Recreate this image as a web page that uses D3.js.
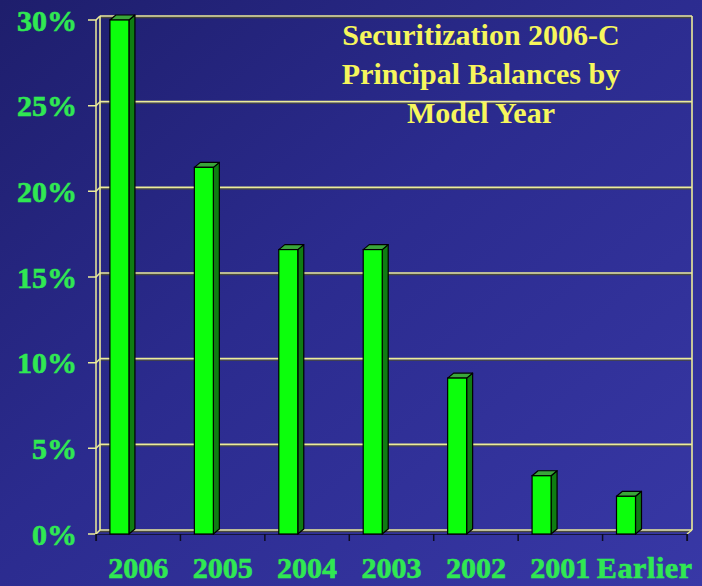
<!DOCTYPE html>
<html>
<head>
<meta charset="utf-8">
<script src="https://cdn.jsdelivr.net/npm/d3@7"></script>
<style>
  html, body { margin: 0; padding: 0; background: #2a2a8c; }
  svg { display: block; }
</style>
</head>
<body>
<svg id="chart" width="702" height="586"></svg>
<script>
const categories = ["2006", "2005", "2004", "2003", "2002", "2001", "Earlier"];
const values = [30.0, 21.4, 16.6, 16.6, 9.1, 3.4, 2.2];
const yTicks = [0, 5, 10, 15, 20, 25, 30];
const titleLines = ["Securitization 2006-C", "Principal Balances by", "Model Year"];

const svg = d3.select("#chart");
const W = 702, H = 586;

const defs = svg.append("defs");
const bg = defs.append("linearGradient").attr("id", "bg")
  .attr("x1", "0").attr("y1", "0").attr("x2", "1").attr("y2", "1");
bg.append("stop").attr("offset", "0%").attr("stop-color", "#1e1e6c");
bg.append("stop").attr("offset", "45%").attr("stop-color", "#2b2b8e");
bg.append("stop").attr("offset", "100%").attr("stop-color", "#3838a6");
svg.append("rect").attr("width", W).attr("height", H).attr("fill", "url(#bg)");

const x0 = 96, x1 = 687;
const x = d3.scaleBand().domain(categories).range([x0, x1]).padding(0);
const y = d3.scaleLinear().domain([0, 30]).range([534, 20]);
const DX = 4, DY = -4;
const BX = 6, BY = -5;

const gridColor = "#ecec98";
const shadowColor = "#4a4a3a";

const grid = svg.append("g");
yTicks.forEach(t => {
  const yy = y(t) + DY;
  grid.append("line").attr("x1", x0 + DX).attr("x2", x1 + DX)
    .attr("y1", yy + 1.6).attr("y2", yy + 1.6)
    .attr("stroke", shadowColor).attr("stroke-width", 1.2);
  grid.append("line").attr("x1", x0 + DX).attr("x2", x1 + DX + 1)
    .attr("y1", yy).attr("y2", yy)
    .attr("stroke", gridColor).attr("stroke-width", 1.6);
});
grid.append("line").attr("x1", x0 + DX).attr("x2", x0 + DX)
  .attr("y1", y(30) + DY).attr("y2", y(0) + DY)
  .attr("stroke", gridColor).attr("stroke-width", 1.6);
grid.append("line").attr("x1", x1 + DX + 1).attr("x2", x1 + DX + 1)
  .attr("y1", y(30) + DY).attr("y2", y(0) + DY)
  .attr("stroke", gridColor).attr("stroke-width", 1.6);
grid.append("line").attr("x1", x1 + DX + 1).attr("x2", x1)
  .attr("y1", y(0) + DY).attr("y2", y(0))
  .attr("stroke", gridColor).attr("stroke-width", 1.4);

const yAxis = svg.append("g");
yAxis.append("line").attr("x1", x0).attr("x2", x0)
  .attr("y1", y(30)).attr("y2", y(0))
  .attr("stroke", gridColor).attr("stroke-width", 1.5);
yTicks.forEach(t => {
  yAxis.append("polyline")
    .attr("points", `${x0 - 8},${y(t)} ${x0},${y(t)} ${x0 + DX},${y(t) + DY}`)
    .attr("fill", "none").attr("stroke", gridColor).attr("stroke-width", 1.5);
});

const xAxis = d3.axisBottom(x).tickSize(7).tickFormat("");
const gx = svg.append("g").attr("transform", `translate(0,${y(0)})`).call(xAxis);
gx.select(".domain").attr("stroke", "#15153a").attr("stroke-width", 1.2);
gx.selectAll(".tick").remove();
const tickPos = categories.map(c => x(c)).concat([x1]);
tickPos.forEach(p => {
  gx.append("line").attr("x1", p).attr("x2", p).attr("y1", 0).attr("y2", 7)
    .attr("stroke", "#0c0c20").attr("stroke-width", 1.5);
});

const bw = x.bandwidth();
const barW = bw * 0.225, barOff = bw * 0.165;
const bars = svg.append("g").selectAll("g").data(categories).join("g");
bars.each(function(c, i) {
  const g = d3.select(this);
  const bx = x(c) + barOff, top = y(values[i]), bot = y(0);
  g.append("polygon")
    .attr("points", `${bx + barW},${top} ${bx + barW + BX},${top + BY} ${bx + barW + BX},${bot + BY} ${bx + barW},${bot}`)
    .attr("fill", "#0f7d12").attr("stroke", "#000").attr("stroke-width", 1.2).attr("stroke-linejoin", "round");
  g.append("polygon")
    .attr("points", `${bx},${top} ${bx + BX},${top + BY} ${bx + barW + BX},${top + BY} ${bx + barW},${top}`)
    .attr("fill", "#3aa63a").attr("stroke", "#000").attr("stroke-width", 1.2).attr("stroke-linejoin", "round");
  g.append("rect").attr("x", bx).attr("y", top).attr("width", barW).attr("height", bot - top)
    .attr("fill", "#0cff0c").attr("stroke", "#000").attr("stroke-width", 1.2);
});

const labelFont = "'Liberation Serif', 'Times New Roman', serif";
const green = "#30e852";

svg.append("g").selectAll("text").data(yTicks).join("text")
  .attr("x", 77).attr("y", d => y(d) + 10.5)
  .attr("text-anchor", "end")
  .attr("font-family", labelFont).attr("font-weight", "bold").attr("font-size", 30)
  .attr("fill", green).attr("stroke", green).attr("stroke-width", 0.6)
  .text(d => d + "%");

svg.append("g").selectAll("text").data(categories).join("text")
  .attr("x", d => x(d) + bw / 2).attr("y", 578)
  .attr("text-anchor", "middle")
  .attr("font-family", labelFont).attr("font-weight", "bold").attr("font-size", 30)
  .attr("letter-spacing", d => d === "Earlier" ? 0.6 : 0)
  .attr("fill", green).attr("stroke", green).attr("stroke-width", 0.6)
  .text(d => d);

svg.append("g").selectAll("text").data(titleLines).join("text")
  .attr("x", 481).attr("y", (d, i) => 45 + i * 39)
  .attr("text-anchor", "middle")
  .attr("font-family", labelFont).attr("font-weight", "bold").attr("font-size", 30)
  .attr("fill", "#f6f65c")
  .text(d => d);
</script>
</body>
</html>
